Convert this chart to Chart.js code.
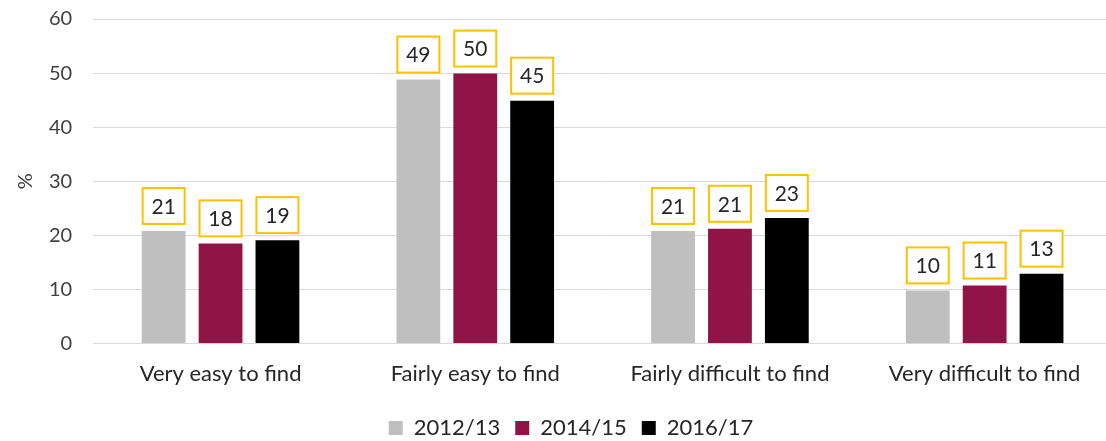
<!DOCTYPE html>
<html>
<head>
<meta charset="utf-8">
<script src="https://cdn.jsdelivr.net/npm/chart.js@4"></script>
<style>
  html, body { margin: 0; padding: 0; background: #fff; overflow: hidden; }
  #wrap { width: 1112px; height: 441px; position: relative; }
</style>
</head>
<body>
<div id="wrap"><canvas id="chart"></canvas></div>
<script>
const categories = ['Very easy to find', 'Fairly easy to find', 'Fairly difficult to find', 'Very difficult to find'];
const seriesNames = ['2012/13', '2014/15', '2016/17'];
const values2012 = [20.8, 48.8, 20.8, 9.8];
const values2014 = [18.5, 49.9, 21.2, 10.7];
const values2016 = [19.1, 44.9, 23.2, 12.9];
const labels2012 = ['21', '49', '21', '10'];
const labels2014 = ['18', '50', '21', '11'];
const labels2016 = ['19', '45', '23', '13'];
const yTicks = [0, 10, 20, 30, 40, 50, 60];

const colors = ['#BFBFBF', '#901446', '#000000'];
const FONT = 'Lato, "Open Sans", sans-serif';

// boxed value labels above each bar
const boxLabels = {
  id: 'boxLabels',
  afterDatasetsDraw(chart) {
    const ctx = chart.ctx;
    const allLabels = [labels2012, labels2014, labels2016];
    chart.data.datasets.forEach((ds, i) => {
      const meta = chart.getDatasetMeta(i);
      meta.data.forEach((bar, j) => {
        const w = 42, h = 36;
        const x = bar.x - w / 2;
        const y = bar.y - 7 - h;
        ctx.save();
        ctx.fillStyle = '#fff';
        ctx.fillRect(x, y, w, h);
        ctx.strokeStyle = '#FFC000';
        ctx.lineWidth = 2;
        ctx.strokeRect(x, y, w, h);
        ctx.fillStyle = '#262626';
        ctx.font = '21px ' + FONT;
        ctx.textAlign = 'center';
        ctx.textBaseline = 'middle';
        ctx.fillText(allLabels[i][j], bar.x, y + h / 2 + 1);
        ctx.restore();
      });
    });
  }
};

// nudge the legend a little to the right, like the original
const legendShift = {
  id: 'legendShift',
  afterLayout(chart) {
    if (chart.legend) {
      chart.legend.left += 9;
      chart.legend.right += 9;
    }
  }
};

new Chart(document.getElementById('chart'), {
  type: 'bar',
  data: {
    labels: categories,
    datasets: [
      { label: seriesNames[0], data: values2012, backgroundColor: colors[0] },
      { label: seriesNames[1], data: values2014, backgroundColor: colors[1] },
      { label: seriesNames[2], data: values2016, backgroundColor: colors[2] }
    ]
  },
  options: {
    responsive: true,
    maintainAspectRatio: false,
    animation: false,
    layout: { padding: { top: 0, left: 12, right: 0, bottom: -8 } },
    datasets: { bar: { barPercentage: 0.77, categoryPercentage: 0.67 } },
    plugins: {
      legend: {
        position: 'bottom',
        labels: {
          boxWidth: 14, boxHeight: 14, color: '#262626',
          font: { size: 22, family: FONT }, padding: 15
        }
      },
      tooltip: { enabled: false }
    },
    scales: {
      x: {
        grid: { display: false },
        border: { display: false },
        ticks: { color: '#262626', font: { size: 22, family: FONT }, padding: 9 },
        title: { display: true, text: ' ', font: { size: 1 }, padding: { top: 0, bottom: 5 } }
      },
      y: {
        min: 0, max: 60,
        afterBuildTicks: axis => { axis.ticks = yTicks.map(v => ({ value: v })); },
        grid: { color: '#D9D9D9', lineWidth: 1, drawTicks: true, tickLength: 14, tickColor: 'rgba(0,0,0,0)' },
        border: { display: false },
        ticks: { color: '#404040', font: { size: 20, family: FONT }, padding: 7 },
        title: { display: true, text: '%', color: '#404040', font: { size: 20, family: FONT }, padding: { top: 2, bottom: 4 } }
      }
    }
  },
  plugins: [boxLabels, legendShift]
});
</script>
</body>
</html>
